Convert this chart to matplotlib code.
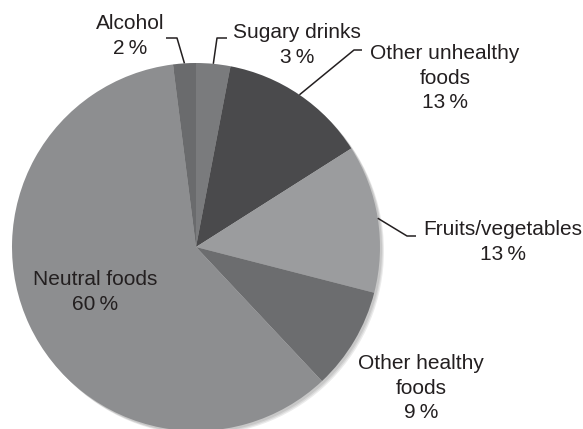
import numpy as np
import matplotlib
matplotlib.use('Agg')
import matplotlib.pyplot as plt
from matplotlib.patches import Circle

plt.rcParams['font.family'] = ['Liberation Sans', 'DejaVu Sans']

# Data
labels = ['Sugary drinks', 'Other unhealthy\nfoods', 'Fruits/vegetables',
          'Other healthy\nfoods', 'Neutral foods', 'Alcohol']
shares = [3, 13, 13, 9, 60, 2]
colors = ['#7a7b7d', '#4a4a4c', '#9b9c9e', '#6c6d6f', '#8d8e90', '#6a6b6d']

W, H = 583, 429
fig = plt.figure(figsize=(W / 100, H / 100), dpi=100)
ax = fig.add_axes([0, 0, 1, 1])

cx, cy, r = 196, H - 247, 184

# soft shadow to the lower right
for k, a in enumerate([0.08, 0.08, 0.08]):
    ax.add_patch(Circle((cx + 2 + k, cy - 2 - k), r, color='#000000', alpha=a, lw=0, zorder=0))

wedges, _ = ax.pie(shares, colors=colors, startangle=90, counterclock=False,
                   center=(cx, cy), radius=r, wedgeprops=dict(linewidth=0))

ax.set_xlim(0, W)
ax.set_ylim(0, H)
ax.set_aspect('auto')
ax.axis('off')

# label centres (pixel coords from top) and leader elbows
text_pos = {
    'Sugary drinks': (297, 45),
    'Other unhealthy\nfoods': (445, 78),
    'Fruits/vegetables': (503, 242),
    'Other healthy\nfoods': (421, 388),
    'Neutral foods': (95, 292),
    'Alcohol': (130, 36),
}
elbows = {
    'Sugary drinks': [(217, 38), (227, 38)],
    'Other unhealthy\nfoods': [(354, 50), (362, 50)],
    'Fruits/vegetables': [(407, 236), (416, 236)],
    'Alcohol': [(177, 38), (166, 38)],
}

txt_col = '#231f20'
for w, lab, s in zip(wedges, labels, shares):
    tx, ty = text_pos[lab]
    ax.text(tx, H - ty, f'{lab}\n{s}\u2009%', ha='center', va='center',
            fontsize=15, color=txt_col, linespacing=1.37)
    if lab in elbows:
        ang = np.deg2rad((w.theta1 + w.theta2) / 2)
        pts = [(cx + r * np.cos(ang), cy + r * np.sin(ang))]
        pts += [(x, H - y) for x, y in elbows[lab]]
        xs, ys = zip(*pts)
        ax.plot(xs, ys, color=txt_col, lw=1.1, solid_capstyle='butt')

fig.savefig('out.png', dpi=100)
